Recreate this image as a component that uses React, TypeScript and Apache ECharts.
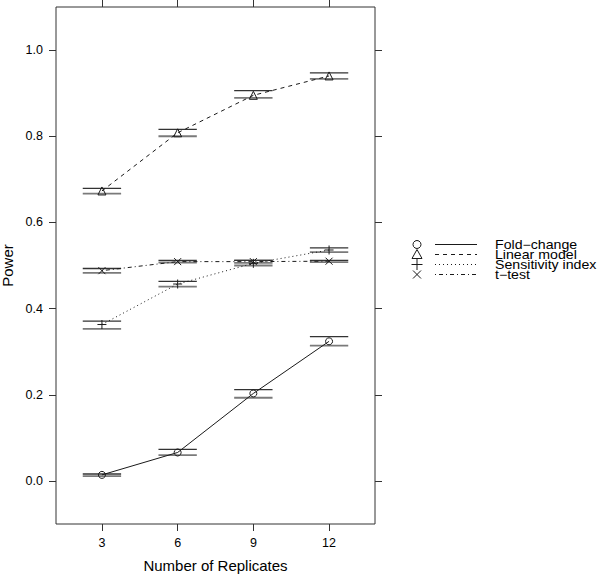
import React, { useEffect, useRef } from "react";
import * as echarts from "echarts";

// ---- data ----
const replicates = [3, 6, 9, 12];
const xTicks = [3, 6, 9, 12];
const yTicks = [0, 0.2, 0.4, 0.6, 0.8, 1.0];

const methods = ["Fold\u2212change", "Linear model", "Sensitivity index", "t\u2212test"];

const foldChange = [0.014, 0.066, 0.203, 0.324];
const foldChangeLower = [0.011, 0.060, 0.193, 0.314];
const foldChangeUpper = [0.016, 0.073, 0.212, 0.335];

const linearModel = [0.673, 0.808, 0.895, 0.940];
const linearModelLower = [0.667, 0.800, 0.889, 0.933];
const linearModelUpper = [0.679, 0.816, 0.906, 0.947];

const sensitivityIndex = [0.363, 0.457, 0.505, 0.536];
const sensitivityIndexLower = [0.353, 0.451, 0.500, 0.531];
const sensitivityIndexUpper = [0.371, 0.463, 0.512, 0.541];

const tTest = [0.488, 0.509, 0.509, 0.510];
const tTestLower = [0.483, 0.507, 0.506, 0.508];
const tTestUpper = [0.493, 0.512, 0.512, 0.512];

// ---- styles ----
const FONT = "Liberation Sans, Arial, Helvetica, sans-serif";
const INK = "#1a1a1a";
const BAR_HALF = 0.76;

const PLUS = "path://M0,5L10,5M5,0L5,10";
const CROSS = "path://M0,0L10,10M0,10L10,0";

const seriesDefs = [
  { name: methods[0], values: foldChange, lower: foldChangeLower, upper: foldChangeUpper, symbol: "circle", size: 7, dash: "solid" as any },
  { name: methods[1], values: linearModel, lower: linearModelLower, upper: linearModelUpper, symbol: "triangle", size: 8, dash: [4, 4] },
  { name: methods[2], values: sensitivityIndex, lower: sensitivityIndexLower, upper: sensitivityIndexUpper, symbol: PLUS, size: 9, dash: [1, 3] },
  { name: methods[3], values: tTest, lower: tTestLower, upper: tTestUpper, symbol: CROSS, size: 7, dash: [1, 3, 4, 3] },
];

function renderBars(params: any, api: any) {
  const x = api.value(0);
  const lo = api.value(1);
  const hi = api.value(2);
  const a1 = api.coord([x - BAR_HALF, hi]);
  const a2 = api.coord([x + BAR_HALF, hi]);
  const b1 = api.coord([x - BAR_HALF, lo]);
  const b2 = api.coord([x + BAR_HALF, lo]);
  return {
    type: "group",
    children: [
      { type: "line", shape: { x1: b1[0], y1: b1[1], x2: b2[0], y2: b2[1] }, style: { stroke: "#7a7a7a", lineWidth: 1.8 } },
      { type: "line", shape: { x1: a1[0], y1: a1[1], x2: a2[0], y2: a2[1] }, style: { stroke: "#333", lineWidth: 1.3 } },
    ],
  };
}

function legendGraphics() {
  const rows = [244.5, 254.5, 264.5, 274.5];
  const symX = 417;
  const lineX1 = 435;
  const lineX2 = 477;
  const textX = 495;
  const els: any[] = [];
  const stroke = { stroke: INK, lineWidth: 1, fill: "none" };
  seriesDefs.forEach((d, i) => {
    const y = rows[i];
    if (i === 0) els.push({ type: "circle", shape: { cx: symX, cy: y, r: 4 }, style: { ...stroke } });
    if (i === 1) els.push({ type: "polygon", shape: { points: [[symX - 5, y + 4], [symX + 5, y + 4], [symX, y - 5]] }, style: { ...stroke } });
    if (i === 2) {
      els.push({ type: "line", shape: { x1: symX - 5.5, y1: y, x2: symX + 5.5, y2: y }, style: { ...stroke } });
      els.push({ type: "line", shape: { x1: symX, y1: y - 5.5, x2: symX, y2: y + 5.5 }, style: { ...stroke } });
    }
    if (i === 3) {
      els.push({ type: "line", shape: { x1: symX - 4, y1: y - 4, x2: symX + 4, y2: y + 4 }, style: { ...stroke } });
      els.push({ type: "line", shape: { x1: symX - 4, y1: y + 4, x2: symX + 4, y2: y - 4 }, style: { ...stroke } });
    }
    els.push({
      type: "line",
      shape: { x1: lineX1, y1: y, x2: lineX2, y2: y },
      style: { stroke: INK, lineWidth: 1, lineDash: d.dash === "solid" ? null : d.dash },
    });
    els.push({
      type: "text",
      x: textX,
      y: y,
      scaleX: 1.18,
      style: { text: d.name, fill: "#000", font: `12px ${FONT}`, verticalAlign: "middle" },
    });
  });
  return els;
}

export default function App() {
  const ref = useRef<HTMLDivElement>(null);
  useEffect(() => {
    if (!ref.current) return;
    const chart = echarts.init(ref.current, null, { renderer: "svg" });
    const tickStyle = { show: true, inside: false, length: 7, lineStyle: { color: "#333", width: 1 } };
    const noLine = { show: false, onZero: false };
    const option: any = {
      animation: false,
      backgroundColor: "#fff",
      textStyle: { fontFamily: FONT },
      grid: {
        left: 56, top: 7, right: 225, bottom: 52,
        show: true, borderColor: "#333", borderWidth: 1,
        outerBoundsMode: "none",
      },
      xAxis: [
        {
          type: "value", min: 1.18, max: 13.82, position: "bottom",
          axisLine: noLine,
          axisTick: { ...tickStyle, customValues: xTicks },
          axisLabel: { customValues: xTicks, margin: 12, color: "#000", fontSize: 12.5, fontFamily: FONT },
          splitLine: { show: false },
          name: "Number of Replicates", nameLocation: "middle", nameGap: 34,
          nameTextStyle: { fontSize: 15, color: "#000", fontFamily: FONT },
        },
        {
          type: "value", min: 1.18, max: 13.82, position: "top",
          axisLine: noLine,
          axisTick: { ...tickStyle, customValues: xTicks },
          axisLabel: { show: false, customValues: xTicks },
          splitLine: { show: false },
        },
      ],
      yAxis: [
        {
          type: "value", min: -0.1, max: 1.1, position: "left",
          axisLine: noLine,
          axisTick: { ...tickStyle, customValues: yTicks },
          axisLabel: {
            customValues: yTicks, margin: 13, color: "#000", fontSize: 12.5, fontFamily: FONT,
            formatter: (v: number) => v.toFixed(1),
          },
          splitLine: { show: false },
          name: "Power", nameLocation: "middle", nameGap: 35, nameRotate: 90,
          nameTextStyle: { fontSize: 15, color: "#000", fontFamily: FONT },
        },
        {
          type: "value", min: -0.1, max: 1.1, position: "right",
          axisLine: noLine,
          axisTick: { ...tickStyle, customValues: yTicks },
          axisLabel: { show: false, customValues: yTicks },
          splitLine: { show: false },
        },
      ],
      series: [
        ...seriesDefs.map((d) => ({
          type: "custom",
          name: d.name + " CI",
          renderItem: renderBars,
          encode: { x: 0, y: [1, 2] },
          data: replicates.map((x, i) => [x, d.lower[i], d.upper[i]]),
          z: 1,
          silent: true,
        })),
        ...seriesDefs.map((d) => ({
          type: "line",
          name: d.name,
          data: replicates.map((x, i) => [x, d.values[i]]),
          symbol: d.symbol,
          symbolSize: d.size,
          showSymbol: true,
          itemStyle: { color: "rgba(0,0,0,0)", borderColor: INK, borderWidth: 1 },
          lineStyle: { color: INK, width: 1, type: d.dash },
          z: 3,
          silent: true,
        })),
      ],
      graphic: legendGraphics(),
    };
    chart.setOption(option);
    return () => chart.dispose();
  }, []);
  return <div ref={ref} style={{ position: "absolute", left: 0, top: 0, width: 600, height: 576 }} />;
}
